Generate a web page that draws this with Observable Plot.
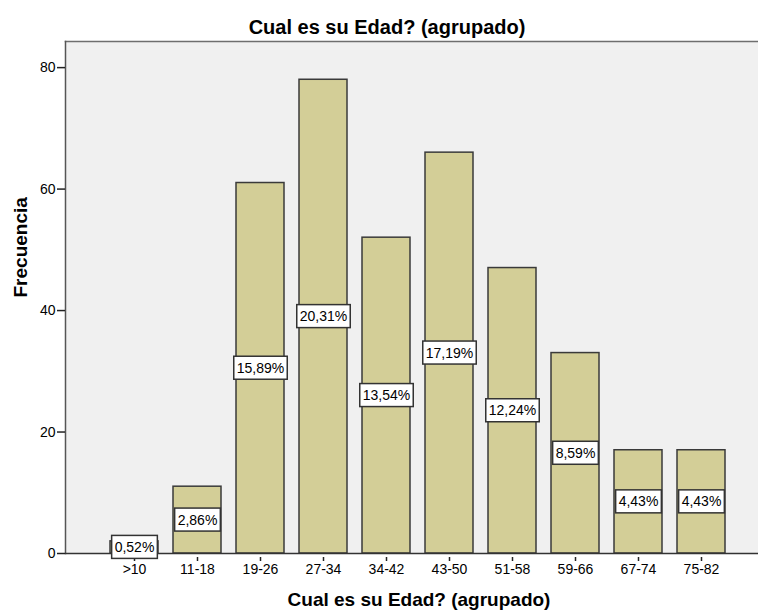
<!DOCTYPE html>
<html>
<head>
<meta charset="utf-8">
<script src="https://cdn.jsdelivr.net/npm/d3@7"></script>
<script src="https://cdn.jsdelivr.net/npm/@observablehq/plot@0.6"></script>
<style>
  html, body { margin: 0; padding: 0; background: #ffffff; overflow: hidden; }
  #chart svg { display: block; }
</style>
</head>
<body>
<div id="chart"></div>
<script>
const categories = [">10", "11-18", "19-26", "27-34", "34-42", "43-50", "51-58", "59-66", "67-74", "75-82"];
const counts = [2, 11, 61, 78, 52, 66, 47, 33, 17, 17];
const percents = ["0,52%", "2,86%", "15,89%", "20,31%", "13,54%", "17,19%", "12,24%", "8,59%", "4,43%", "4,43%"];
const yTicks = [0, 20, 40, 60, 80];
const titleText = "Cual es su Edad? (agrupado)";
const xLabel = "Cual es su Edad? (agrupado)";
const yLabel = "Frecuencia";

const data = categories.map((c, i) => ({cat: c, count: counts[i], pct: percents[i]}));

const font = "'Liberation Sans', Arial, Helvetica, sans-serif";

const chart = Plot.plot({
  width: 758,
  height: 610,
  marginLeft: 65,
  marginRight: 0,
  marginTop: 41,
  marginBottom: 57,
  style: {fontFamily: font, fontSize: "14px", color: "#000", background: "#fff", overflow: "visible"},
  x: {domain: categories, range: [93, 742], padding: 0.24, label: null},
  y: {domain: [0, 84.3], label: null},
  marks: [
    Plot.frame({fill: "#f0f0f0", stroke: "none"}),
    Plot.frame({anchor: "top", stroke: "#6e6e6e", strokeWidth: 1.5}),
    Plot.frame({anchor: "left", stroke: "#555", strokeWidth: 1.5}),
    Plot.barY(data, {x: "cat", y: "count", fill: "#d3ce97", stroke: "#3a3a3a", strokeWidth: 1.5}),
    Plot.ruleY([0], {stroke: "#333", strokeWidth: 1.5}),
    Plot.axisY({ticks: yTicks, tickSize: 8, tickPadding: 2, fontSize: 14, stroke: "#222", strokeWidth: 1.5, label: null}),
    Plot.axisX({tickSize: 4, tickPadding: 3, dy: 4, fontSize: 14, stroke: "#222", strokeWidth: 1.5, label: null}),
    Plot.text(data, {x: "cat", y: d => d.count / 2, text: "pct", fontSize: 14, fill: "#000"}),
    Plot.text([titleText], {text: d => d, frameAnchor: "top", lineAnchor: "bottom", dx: -25, dy: -8, fontSize: 20, fontWeight: "bold", fill: "#000"}),
    Plot.text([xLabel], {text: d => d, frameAnchor: "bottom", lineAnchor: "bottom", dx: 7, dy: 52, fontSize: 19, fontWeight: "bold", fill: "#000"}),
    Plot.text([yLabel], {text: d => d, frameAnchor: "left", lineAnchor: "bottom", rotate: -90, dx: -39, fontSize: 19, fontWeight: "bold", fill: "#000"})
  ]
});

document.getElementById("chart").appendChild(chart);

// white boxes behind the percentage labels
const pctSet = new Set(percents);
d3.select(chart).selectAll("text").filter(function() {
  return pctSet.has(this.textContent) && this.closest("g[aria-label='text']");
}).each(function() {
  const bb = this.getBBox();
  const padX = 3, padY = 3.5;
  const rect = document.createElementNS("http://www.w3.org/2000/svg", "rect");
  rect.setAttribute("x", bb.x - padX);
  rect.setAttribute("y", bb.y - padY);
  rect.setAttribute("width", bb.width + 2 * padX);
  rect.setAttribute("height", bb.height + 2 * padY);
  rect.setAttribute("fill", "#ffffff");
  rect.setAttribute("stroke", "#333");
  rect.setAttribute("stroke-width", "1.5");
  const t = this.getAttribute("transform");
  if (t) rect.setAttribute("transform", t);
  this.parentNode.insertBefore(rect, this);
});
</script>
</body>
</html>
